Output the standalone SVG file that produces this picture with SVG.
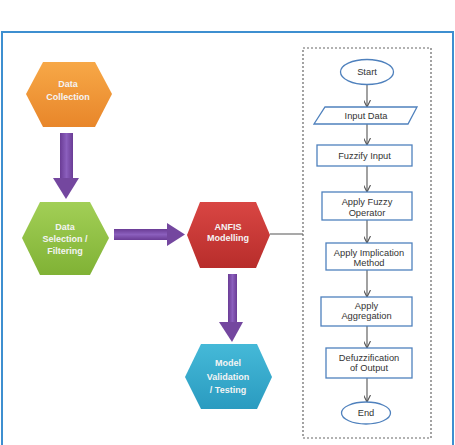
<svg xmlns="http://www.w3.org/2000/svg" width="455" height="445" viewBox="0 0 455 445">
<defs>
<linearGradient id="gOr" x1="0" y1="0" x2="0" y2="1"><stop offset="0" stop-color="#f7a847"/><stop offset="1" stop-color="#e8862a"/></linearGradient>
<linearGradient id="gGr" x1="0" y1="0" x2="0" y2="1"><stop offset="0" stop-color="#a2cf56"/><stop offset="1" stop-color="#80b235"/></linearGradient>
<linearGradient id="gRd" x1="0" y1="0" x2="0" y2="1"><stop offset="0" stop-color="#d94643"/><stop offset="1" stop-color="#b82d2b"/></linearGradient>
<linearGradient id="gBl" x1="0" y1="0" x2="0" y2="1"><stop offset="0" stop-color="#45b9d8"/><stop offset="1" stop-color="#2a9bc0"/></linearGradient>
<linearGradient id="gPv" x1="0" y1="0" x2="1" y2="0"><stop offset="0" stop-color="#6a3c95"/><stop offset="0.5" stop-color="#8b5fbd"/><stop offset="1" stop-color="#6a3c95"/></linearGradient>
<linearGradient id="gPh" x1="0" y1="0" x2="0" y2="1"><stop offset="0" stop-color="#6a3c95"/><stop offset="0.5" stop-color="#8b5fbd"/><stop offset="1" stop-color="#6a3c95"/></linearGradient>
<marker id="ah" viewBox="0 0 10 10" refX="10" refY="5" markerWidth="7" markerHeight="7" orient="auto" markerUnits="userSpaceOnUse"><path d="M0,0 L10,5 L0,10" fill="none" stroke="#555" stroke-width="1.6"/></marker>
<style>
.hx{stroke:none}
.ht{font-family:"Liberation Sans",Arial,sans-serif;font-weight:bold;font-size:9px;fill:#f4f4f4;text-anchor:middle}
.fb{fill:#fff;stroke:#4f81bd;stroke-width:1.3}
.ft{font-family:"Liberation Sans",Arial,sans-serif;font-size:9.3px;fill:#333;text-anchor:middle}
.cn{stroke:#555;stroke-width:1.1;fill:none}
</style>
</defs>
<rect x="2" y="32" width="451" height="430" fill="#fff" stroke="#3d8fd0" stroke-width="2"/>
<rect x="303" y="48" width="128" height="390" fill="none" stroke="#666" stroke-width="1.2" stroke-dasharray="2,2"/>

<g id="connectors">
<rect x="60" y="133" width="13" height="46" fill="url(#gPv)"/>
<polygon points="53,178 79,178 66,199" fill="#74479f"/>
<rect x="114" y="229" width="54" height="11" fill="url(#gPh)"/>
<polygon points="167,223 167,246 185,234.5" fill="#74479f"/>
<rect x="228" y="274" width="9" height="49" fill="url(#gPv)"/>
<polygon points="219,322 243,322 232,342" fill="#74479f"/>
<line class="cn" x1="270" y1="234" x2="303" y2="234"/>
<line class="cn" x1="367" y1="85" x2="367" y2="107" marker-end="url(#ah)"/>
<line class="cn" x1="367" y1="124" x2="367" y2="145" marker-end="url(#ah)"/>
<line class="cn" x1="367" y1="166" x2="367" y2="192" marker-end="url(#ah)"/>
<line class="cn" x1="367" y1="220" x2="367" y2="243" marker-end="url(#ah)"/>
<line class="cn" x1="367" y1="270" x2="367" y2="297" marker-end="url(#ah)"/>
<line class="cn" x1="367" y1="326" x2="367" y2="348" marker-end="url(#ah)"/>
<line class="cn" x1="367" y1="378" x2="367" y2="402" marker-end="url(#ah)"/>
</g>

<g id="data-collection">
<polygon class="hx" points="26,94 43,62 95,62 112,94 95,127 43,127" fill="url(#gOr)"/>
<text class="ht" x="68" y="87">Data</text>
<text class="ht" x="68" y="100">Collection</text>
</g>
<g id="data-selection">
<polygon class="hx" points="22,238 40,202 90,202 109,238 90,275 40,275" fill="url(#gGr)"/>
<text class="ht" x="65" y="230">Data</text>
<text class="ht" x="65" y="242">Selection /</text>
<text class="ht" x="65" y="254">Filtering</text>
</g>
<g id="anfis">
<polygon class="hx" points="187,235 200,202 256,202 270,235 256,268 200,268" fill="url(#gRd)"/>
<text class="ht" x="228" y="230">ANFIS</text>
<text class="ht" x="228" y="241">Modelling</text>
</g>
<g id="model-validation">
<polygon class="hx" points="185,377 201,344 257,344 272,377 257,409 201,409" fill="url(#gBl)"/>
<text class="ht" x="228" y="366">Model</text>
<text class="ht" x="228" y="380">Validation</text>
<text class="ht" x="228" y="393">/ Testing</text>
</g>

<g id="start"><ellipse class="fb" cx="367" cy="72" rx="26.5" ry="12.5"/><text class="ft" x="367" y="75">Start</text></g>
<g id="input-data"><polygon class="fb" points="325,107 417,107 408,124 314,124"/><text class="ft" x="366" y="118.5">Input Data</text></g>
<g id="fuzzify-input"><rect class="fb" x="317" y="145" width="95" height="21"/><text class="ft" x="364.5" y="158.5">Fuzzify Input</text></g>
<g id="fuzzy-operator"><rect class="fb" x="322" y="192" width="90" height="28"/><text class="ft" x="367" y="204.5">Apply Fuzzy</text><text class="ft" x="367" y="215.5">Operator</text></g>
<g id="implication"><rect class="fb" x="326" y="243" width="86" height="27"/><text class="ft" x="369" y="256">Apply Implication</text><text class="ft" x="369" y="266">Method</text></g>
<g id="aggregation"><rect class="fb" x="321" y="297" width="91" height="29"/><text class="ft" x="366.5" y="309">Apply</text><text class="ft" x="366.5" y="319">Aggregation</text></g>
<g id="defuzzification"><rect class="fb" x="326" y="348" width="86" height="30"/><text class="ft" x="369" y="361">Defuzzification</text><text class="ft" x="369" y="371">of Output</text></g>
<g id="end"><ellipse class="fb" cx="366" cy="413" rx="24.5" ry="11"/><text class="ft" x="366" y="416">End</text></g>
</svg>
